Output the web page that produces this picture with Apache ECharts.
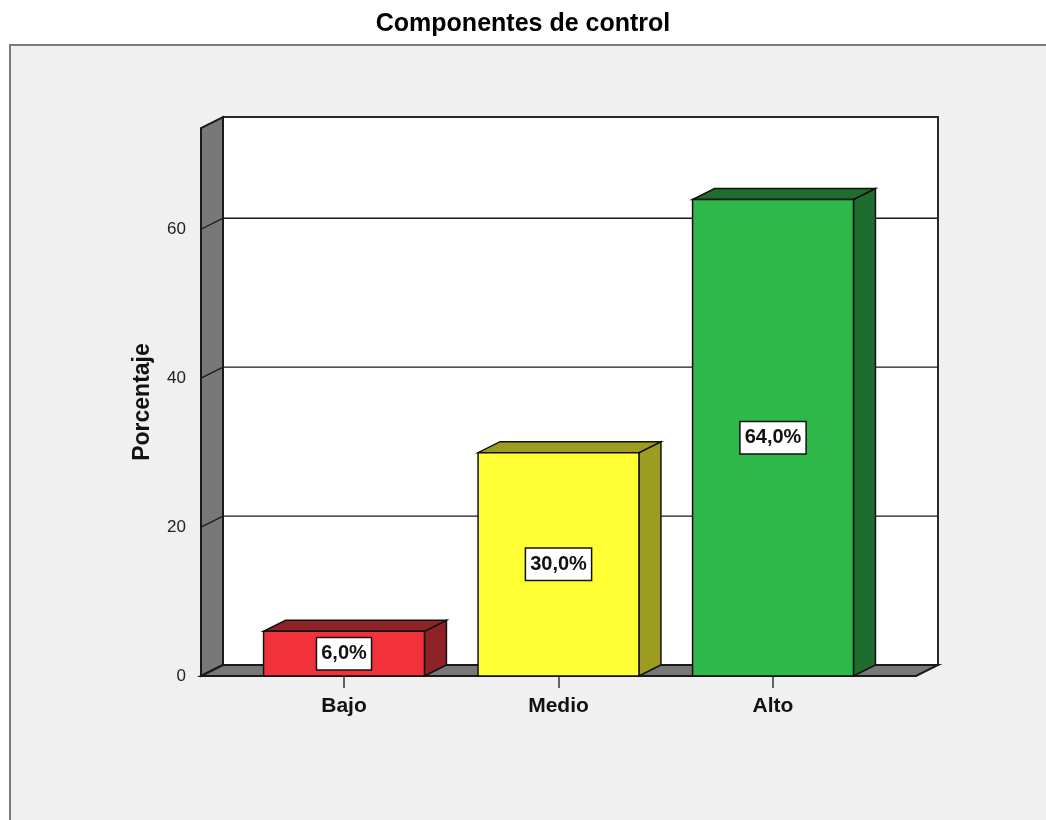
<!DOCTYPE html>
<html>
<head>
<meta charset="utf-8">
<script src="https://cdn.jsdelivr.net/npm/echarts@6/dist/echarts.min.js"></script>
<style>
  html, body { margin: 0; padding: 0; background: #fff; }
  #chart { width: 1046px; height: 820px; }
</style>
</head>
<body>
<div id="chart"></div>
<script>
  // datos
  const categories = ['Bajo', 'Medio', 'Alto'];
  const percentages = [6.0, 30.0, 64.0];
  const yTicks = [0, 20, 40, 60];
  const yMax = 73.6;

  // estilo
  const frontColors = ['#f2323a', '#ffff33', '#2eb84a'];
  const darkColors = ['#8e2226', '#9c9c20', '#1f6d2e'];
  const DX = 22, DY = -11; // profundidad 3D en px
  const X_MIN = -2 / 3;
  const X_MAX = categories.length - 1 + 2 / 3;
  const BAR_HALF = 0.375;
  const FONT = '"Liberation Sans", Arial, sans-serif';

  // paredes, suelo y lineas de cuadricula
  function renderWalls(params, api) {
    const bl = api.coord([X_MIN, 0]);
    const br = api.coord([X_MAX, 0]);
    const tl = api.coord([X_MIN, yMax]);
    const back = (p) => [p[0] + DX, p[1] + DY];
    const children = [];
    children.push({
      type: 'rect',
      shape: { x: tl[0] + DX, y: tl[1] + DY, width: br[0] - bl[0], height: bl[1] - tl[1] },
      style: { fill: '#ffffff', stroke: '#2a2a2a', lineWidth: 2 }
    });
    children.push({
      type: 'polygon',
      shape: { points: [bl, tl, back(tl), back(bl)] },
      style: { fill: '#787878', stroke: '#1a1a1a', lineWidth: 2 }
    });
    children.push({
      type: 'polygon',
      shape: { points: [bl, br, back(br), back(bl)] },
      style: { fill: '#787878', stroke: '#1a1a1a', lineWidth: 2 }
    });
    yTicks.filter((v) => v > 0).forEach((v) => {
      const p = api.coord([X_MIN, v]);
      children.push({
        type: 'polyline',
        shape: { points: [p, back(p), [br[0] + DX, p[1] + DY]] },
        style: { stroke: '#1a1a1a', lineWidth: 1.3, fill: null }
      });
    });
    return { type: 'group', children: children };
  }

  // barras 3D
  function renderBar(params, api) {
    const i = api.value(0);
    const v = api.value(1);
    const a = api.coord([i - BAR_HALF, v]);
    const b = api.coord([i + BAR_HALF, 0]);
    const x0 = a[0], yTop = a[1], x1 = b[0], yBot = b[1];
    const idx = params.dataIndex;
    const label = v.toFixed(1).replace('.', ',') + '%';
    return {
      type: 'group',
      children: [
        {
          type: 'polygon',
          shape: { points: [[x1, yTop], [x1, yBot], [x1 + DX, yBot + DY], [x1 + DX, yTop + DY]] },
          style: { fill: darkColors[idx], stroke: '#111', lineWidth: 1.5 }
        },
        {
          type: 'polygon',
          shape: { points: [[x0, yTop], [x1, yTop], [x1 + DX, yTop + DY], [x0 + DX, yTop + DY]] },
          style: { fill: darkColors[idx], stroke: '#111', lineWidth: 1.5 }
        },
        {
          type: 'rect',
          shape: { x: x0, y: yTop, width: x1 - x0, height: yBot - yTop },
          style: { fill: frontColors[idx], stroke: '#111', lineWidth: 1.5 }
        },
        {
          type: 'text',
          x: (x0 + x1) / 2,
          y: (yTop + yBot) / 2,
          style: {
            text: label,
            align: 'center',
            verticalAlign: 'middle',
            font: 'bold 20px ' + FONT,
            fill: '#111',
            backgroundColor: '#ffffff',
            borderColor: '#111',
            borderWidth: 1.5,
            padding: [6, 4, 5, 4]
          }
        }
      ]
    };
  }

  const chart = echarts.init(document.getElementById('chart'));
  const option = {
    backgroundColor: '#ffffff',
    animation: false,
    title: {
      text: 'Componentes de control',
      left: 'center',
      top: 7,
      textStyle: { fontFamily: FONT, fontSize: 25, fontWeight: 'bold', color: '#000' }
    },
    graphic: [
      {
        type: 'rect',
        left: 9,
        top: 44,
        z: -10,
        shape: { width: 1100, height: 900 },
        style: { fill: '#f0f0f0', stroke: '#7a7a7a', lineWidth: 2 }
      }
    ],
    grid: { left: 201, top: 128, width: 715, height: 548 },
    xAxis: {
      type: 'value',
      min: X_MIN,
      max: X_MAX,
      splitLine: { show: false },
      axisLine: { show: false },
      axisTick: {
        show: true,
        length: 12,
        customValues: categories.map((c, i) => i),
        lineStyle: { color: '#333', width: 1.5 }
      },
      axisLabel: {
        customValues: categories.map((c, i) => i),
        formatter: (v) => categories[Math.round(v)],
        margin: 20,
        fontFamily: FONT,
        fontSize: 21,
        fontWeight: 'bold',
        color: '#111'
      }
    },
    yAxis: {
      type: 'value',
      min: 0,
      max: yMax,
      name: 'Porcentaje',
      nameLocation: 'middle',
      nameGap: 47,
      nameTextStyle: { fontFamily: FONT, fontSize: 23, fontWeight: 'bold', color: '#111' },
      splitLine: { show: false },
      axisLine: { show: false },
      axisTick: {
        show: true,
        length: 13,
        customValues: yTicks,
        lineStyle: { color: '#333', width: 1.5 }
      },
      axisLabel: {
        customValues: yTicks,
        margin: 15,
        fontFamily: FONT,
        fontSize: 17,
        color: '#222'
      }
    },
    series: [
      {
        type: 'custom',
        renderItem: renderWalls,
        clip: false,
        silent: true,
        data: [[0, 0]]
      },
      {
        type: 'custom',
        renderItem: renderBar,
        clip: false,
        data: percentages.map((v, i) => [i, v])
      }
    ]
  };
  chart.setOption(option);
</script>
</body>
</html>
